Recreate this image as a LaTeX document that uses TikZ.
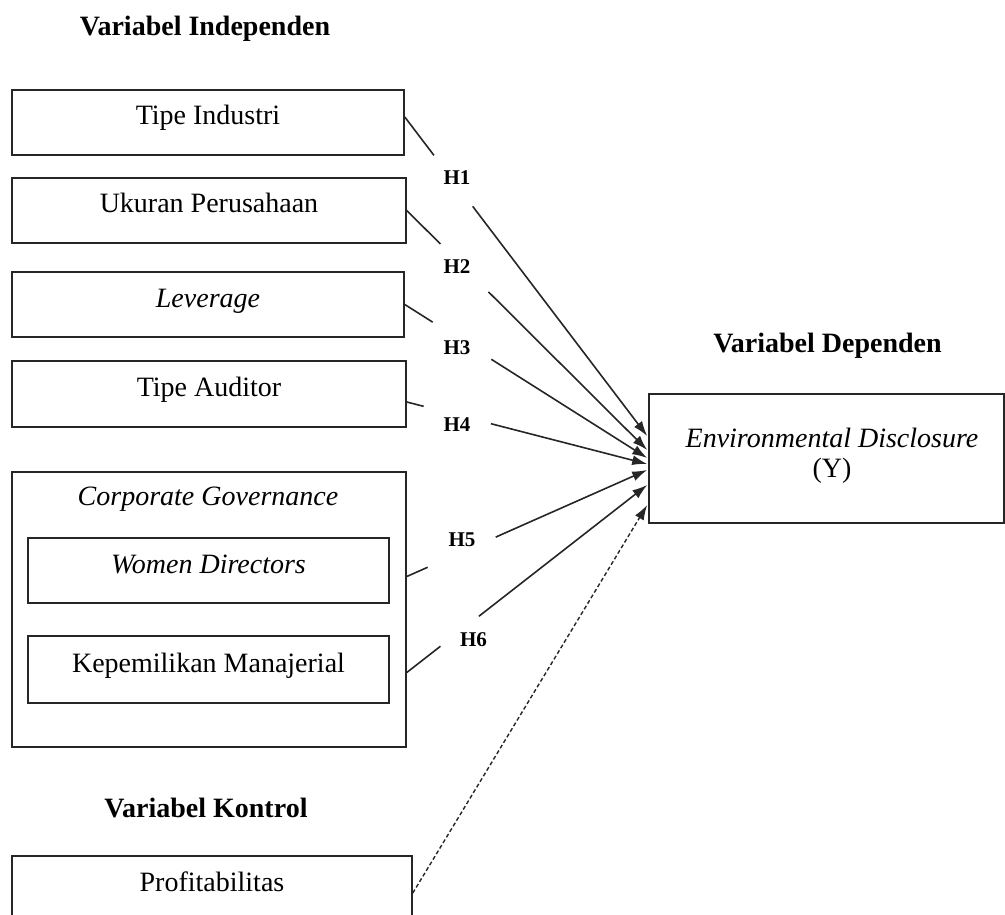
\documentclass[tikz,border=0pt]{standalone}
\usepackage{fontspec}
\setmainfont{Liberation Serif}
\usetikzlibrary{arrows.meta,calc}

\begin{document}
\begin{tikzpicture}[x=1pt,y=-1pt,
  varbox/.style={draw=black!85,line width=1.6pt,rectangle,inner sep=0pt,minimum height=65pt,text height=19pt,text depth=14pt,font=\fontsize{28}{30}\selectfont},
  title/.style={anchor=base,font=\fontsize{28}{30}\selectfont\bfseries},
  hyp/.style={inner sep=0pt,font=\fontsize{21}{23}\selectfont\bfseries},
  link/.style={draw=black!85,line width=1.6pt},
  arr/.style={link,-{Latex[length=15pt,width=10pt]}}]
\clip (0,0) rectangle (1005,915);

\node[title] (indep) at (205,36) {Variabel Independen};
\node[varbox,minimum width=392pt] (ti) at (208,122.5) {Tipe Industri};
\node[varbox,minimum width=394pt] (up) at (209,210.5) {Ukuran Perusahaan};
\node[varbox,minimum width=392pt] (lev) at (208,304.5) {\itshape Leverage};
\node[varbox,minimum width=394pt,minimum height=66pt] (ta) at (209,394) {Tipe Auditor};
\node[varbox,minimum width=394pt,minimum height=275pt] (cg) at (209,609.5) {};
\node[anchor=base,font=\fontsize{28}{30}\selectfont\itshape] (cgt) at (208,505) {Corporate Governance};
\node[varbox,minimum width=361pt] (wd) at (208.5,570.5) {\itshape Women Directors};
\node[varbox,minimum width=361pt,minimum height=67pt] (km) at (208.5,669.5) {Kepemilikan Manajerial};
\node[title] (kontrol) at (206,817) {Variabel Kontrol};
\node[varbox,minimum width=400pt] (pr) at (212,888.5) {Profitabilitas};

\node[title] (dep) at (827.5,352) {Variabel Dependen};
\node[draw=black!85,line width=1.6pt,minimum width=355pt,minimum height=129pt] (ed) at (826.5,458.5) {};
\node[align=center,font=\fontsize{28}{30}\selectfont] (edt) at (832,456) {\textit{Environmental Disclosure}\\(Y)};

\coordinate (s1) at ($(ti.east)+(0,-5.5)$);
\coordinate (s2) at (up.east);
\coordinate (s3) at (lev.east);
\coordinate (s4) at ($(ta.east)+(0,8)$);
\coordinate (s5) at ($(cg.east |- wd)+(0,6)$);
\coordinate (s6) at ($(cg.east |- km)+(0,3)$);
\coordinate (s7) at ($(pr.east)+(0,4.5)$);

\coordinate (t1) at ($(ed.west)+(-1,-22.5)$);
\coordinate (t2) at ($(ed.west)+(-1,-8.5)$);
\coordinate (t3) at ($(ed.west)+(-1,-0.5)$);
\coordinate (t4) at ($(ed.west)+(-1,5.5)$);
\coordinate (t5) at ($(ed.west)+(-1,11.5)$);
\coordinate (t6) at ($(ed.west)+(-1,26.5)$);
\coordinate (t7) at ($(ed.west)+(-1,46.5)$);

\draw[link] (s1) -- ($(s1)!.12!(t1)$);
\draw[arr] ($(s1)!.28!(t1)$) -- (t1);
\draw[link] (s2) -- ($(s2)!.14!(t2)$);
\draw[arr] ($(s2)!.34!(t2)$) -- (t2);
\draw[link] (s3) -- ($(s3)!.115!(t3)$);
\draw[arr] ($(s3)!.357!(t3)$) -- (t3);
\draw[link] (s4) -- ($(s4)!.07!(t4)$);
\draw[arr] ($(s4)!.35!(t4)$) -- (t4);
\draw[link] (s5) -- ($(s5)!.087!(t5)$);
\draw[arr] ($(s5)!.37!(t5)$) -- (t5);
\draw[link] (s6) -- ($(s6)!.14!(t6)$);
\draw[arr] ($(s6)!.30!(t6)$) -- (t6);
\draw[arr,line width=1.4pt,dash pattern=on 4pt off 2.5pt] (s7) -- (t7);

\node[hyp] (h1) at (457,178) {H1};
\node[hyp] (h2) at (457,267) {H2};
\node[hyp] (h3) at (457,347.5) {H3};
\node[hyp] (h4) at (457,424.5) {H4};
\node[hyp] (h5) at (462,540) {H5};
\node[hyp] (h6) at (473.5,640) {H6};
\end{tikzpicture}
\end{document}
